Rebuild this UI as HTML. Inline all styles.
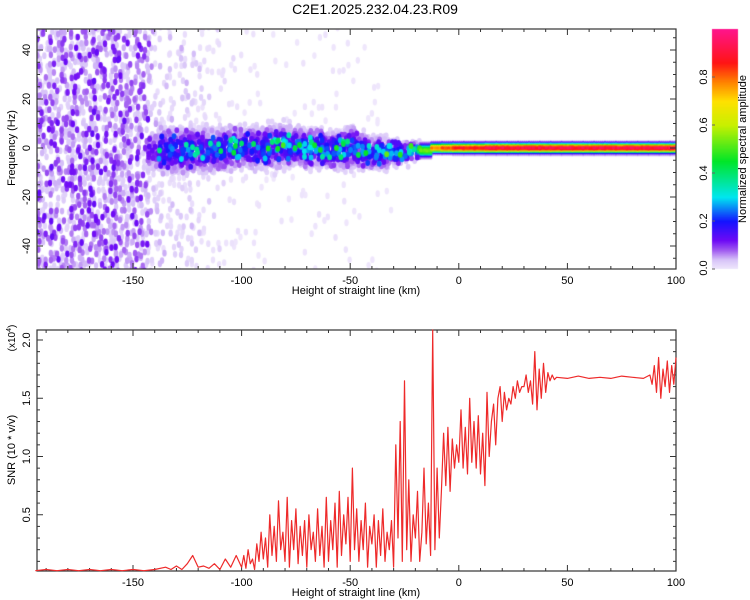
<!DOCTYPE html>
<html><head><meta charset="utf-8"><style>
body{margin:0;background:#fff;}
#wrap{position:relative;width:750px;height:600px;overflow:hidden;font-family:"Liberation Sans",sans-serif;}
canvas,svg{position:absolute;left:0;top:0;}
</style></head><body>
<div id="wrap">
<canvas id="heat" width="750" height="600"></canvas>
<svg id="svg" width="750" height="600"></svg>
</div>
<script>
// ---------- data ----------
const heatHeights = [];
for (let h = -195; h <= 100; h += 5) heatHeights.push(h);
const noiseLevel = [0.11,0.11,0.11,0.11,0.11,0.11,0.11,0.11,0.11,0.11,0.11,0.06,0.04,0.045,0.04,0.035,0.03,0.025,0.015,0.01,0.008,0.006,0.005,0.005,0.005,0.006,0.008,0.008,0.008,0.006,0.005,0.004,0.003,0.002,0.002,0.002,0,0,0,0,0,0,0,0,0,0,0,0,0,0,0,0,0,0,0,0,0,0,0,0];
const bandPeak = [0,0,0,0,0,0,0,0,0,0,0,0.16,0.22,0.25,0.25,0.22,0.25,0.25,0.27,0.25,0.25,0.25,0.27,0.3,0.27,0.3,0.28,0.28,0.3,0.27,0.27,0.27,0.3,0.3,0.33,0.38,0.55,0.8,0.85,0.9,0.9,0.9,0.95,0.95,0.95,0.95,0.95,0.95,0.95,0.95,0.95,0.95,0.95,0.95,0.95,0.95,0.95,0.95,0.95,0.95];
const bandWidth = [1,1,1,1,1,1,1,1,1,1,1,5.5,6.5,6.5,6.5,6.5,6.5,6,6,6,6,6,6,6,5.5,5.5,5.5,5,5,6,5.5,4.5,4.5,3.5,3,2.5,2,1.5,1.5,1.5,1.5,1.5,1.5,1.5,1.5,1.5,1.5,1.5,1.5,1.5,1.5,1.5,1.5,1.5,1.5,1.5,1.5,1.5,1.5,1.5];
const bandCenter = [0,0,0,0,0,0,0,0,0,0,0,-2,-1,-1,-1,-1,-1,-1,0,0,0,0,0,1,1,0,0,-1,-1,0,-1,-2,-2,-2,-2,-1,-1,0,0,0,0,0,0,0,0,0,0,0,0,0,0,0,0,0,0,0,0,0,0,0];

const snrHeights = [-195,-190,-185,-180,-175,-170,-165,-160,-155,-150,-145,-140,-135,-132.5,-130,-127.5,-125,-122.5,-120,-117.5,-115,-112.5,-110,-107.5,-105,-102.5,
-100,-99,-98,-97,-96,-95,-94,-93,-92,-91,-90,-89,-88,-87,-86,-85,-84,-83,-82,-81,-80,-79,-78,-77,-76,-75,-74,-73,-72,-71,-70,-69,-68,-67,-66,-65,-64,-63,-62,-61,-60,-59,-58,-57,-56,-55,-54,-53,-52,-51,-50,-49,-48,-47,-46,-45,-44,-43,-42,-41,-40,-39,-38,-37,-36,-35,-34,-33,-32,-31,-30,-29,-28,-27,-26,-25,-24,-23,-22,-21,-20,-19,-18,-17,-16,-15,-14,-13,-12,-11,-10,-9,-8,-7,-6,-5,-4,-3,-2,-1,0,1,2,3,4,5,6,7,8,9,10,11,12,13,14,15,16,17,18,19,20,21,22,23,24,25,26,27,28,29,30,31,32,33,34,35,36,37,38,39,40,41,42,43,44,45,
50,55,60,65,70,75,80,85,88,89,90,91,92,93,94,95,96,97,98,99,100];
const snrValues = [0.02,0.03,0.02,0.03,0.02,0.03,0.02,0.03,0.02,0.03,0.02,0.03,0.05,0.03,0.06,0.03,0.08,0.15,0.05,0.06,0.04,0.08,0.03,0.12,0.05,0.15,
0.05,0.15,0.04,0.2,0.08,0.12,0.03,0.25,0.1,0.35,
0.12,0.3,0.05,0.5,0.15,0.4,0.1,0.62,0.2,0.35,
0.1,0.65,0.05,0.45,0.2,0.55,0.08,0.4,0.15,0.45,
0.05,0.5,0.2,0.35,0.1,0.55,0.15,0.4,0.05,0.65,
0.1,0.45,0.2,0.6,0.05,0.7,0.15,0.5,0.25,0.65,
0.1,0.9,0.2,0.55,0.1,0.45,0.2,0.6,0.05,0.4,
0.25,0.5,0.05,0.45,0.15,0.55,0.1,0.35,0.2,0.45,
0.05,1.1,0.3,1.3,0.1,1.65,0.2,0.8,0.1,0.5,
0.3,0.7,0.1,0.35,0.9,0.25,0.6,0.15,2.1,0.2,
0.9,0.3,0.7,1.2,0.75,1.25,0.7,1.15,0.9,1.1,
0.95,1.4,0.9,1.25,0.85,1.5,0.95,1.3,0.9,1.35,
0.85,1.2,0.75,1.55,1.0,1.3,1.45,1.1,1.5,1.6,
1.3,1.55,1.4,1.5,1.45,1.6,1.5,1.65,1.55,1.6,
1.6,1.7,1.55,1.65,1.45,1.9,1.4,1.75,1.5,1.8,
1.55,1.72,1.65,1.7,1.66,1.68,
1.67,1.69,1.67,1.68,1.67,1.69,1.68,1.67,1.7,1.62,1.78,1.55,1.85,1.5,1.75,1.6,1.82,1.55,1.78,1.62,1.85];

const xTicksKm = [-150,-100,-50,0,50,100];
const freqTicks = [-40,-20,0,20,40];
const snrTicks = [0.5,1.0,1.5,2.0];
const cbarTicks = [0.0,0.2,0.4,0.6,0.8];

// ---------- scales ----------
const X = h => 458.8 + 2.172*h;
const TOP = {L:37,R:676,T:29,B:269};
const BOT = {L:37,R:676,T:330,B:571};
const YF = f => 148 - 2.45*f;
const YS = s => 573 - 116.5*s;
const CB = {L:712,R:738,T:29,B:269};
const YC = v => 269 - 240*v;

// ---------- colormap ----------
const stops = [[0,[240,232,252]],[0.04,[215,195,248]],[0.08,[160,90,240]],[0.12,[110,10,245]],[0.2,[20,20,255]],[0.3,[0,230,240]],[0.45,[0,230,40]],[0.6,[200,240,0]],[0.7,[255,225,0]],[0.78,[255,130,0]],[0.86,[255,20,20]],[1.0,[255,20,140]]];
function cmap(v){
  v=Math.max(0,Math.min(1,v));
  for(let i=1;i<stops.length;i++){
    if(v<=stops[i][0]){const a=stops[i-1],b=stops[i];const t=(v-a[0])/(b[0]-a[0]);
      return 'rgb('+a[1].map((c,k)=>Math.round(c+(b[1][k]-c)*t)).join(',')+')';}
  }
  return 'rgb(255,20,140)';
}
function hash(i,j){let n=Math.sin(i*12.9898+j*78.233+i*j*0.0137)*43758.5453;return n-Math.floor(n);}

// ---------- heatmap ----------
const cv=document.getElementById('heat');const ctx=cv.getContext('2d');
ctx.save();ctx.beginPath();ctx.rect(TOP.L,TOP.T,TOP.R-TOP.L,TOP.B-TOP.T);ctx.clip();
const cells=[];
let seed=0;
heatHeights.forEach((h,bi)=>{
  const x0=X(h-2.5), x1=X(h+2.5);
  const nl=noiseLevel[bi];
  if(nl>0){
    const dens=Math.min(0.62,nl*5.5);
    for(let x=x0;x<x1;x+=3){
      for(let f=-52;f<=52;f+=2.2){
        seed++;
        const r=hash(seed,1);
        if(r<dens){
          const q=hash(seed,2);
          const v=nl*(0.2+1.0*q*q);
          const jx=(hash(seed,3)-0.5)*3, jy=(hash(seed,4)-0.5)*4;
          cells.push([x+jx,YF(f)+jy,v,2.2,3.4]);
        }
      }
    }
  }
  const pk=bandPeak[bi];
  if(pk>0){
    const w=bandWidth[bi],c=bandCenter[bi];
    const rough=w>2.2;
    for(let x=x0;x<x1;x+=(rough?3:2)){
      for(let f=c-2.6*w;f<=c+2.6*w;f+=(rough?1.3:0.5)){
        seed++;
        const d=(f-c)/w;
        let t;
        if(rough){const q=hash(seed,5);t=0.3+0.85*q+(q>0.9?0.6:0);}
        else t=0.93+0.07*hash(seed,6);
        const v=pk*Math.exp(-d*d)*t;
        const jx=rough?(hash(seed,7)-0.5)*3:0, jy=rough?(hash(seed,8)-0.5)*3:0;
        if(v>0.02) cells.push([x+jx,YF(f)+jy,v,rough?2.4:1.6,rough?3.0:1.5]);
      }
    }
  }
});
cells.sort((a,b)=>a[2]-b[2]);
cells.forEach(c=>{ctx.fillStyle=cmap(c[2]);ctx.beginPath();ctx.ellipse(c[0],c[1],c[3],c[4],0,0,Math.PI*2);ctx.fill();});
ctx.restore();
for(let y=CB.T;y<CB.B;y++){ctx.fillStyle=cmap((CB.B-y)/240);ctx.fillRect(CB.L,y,CB.R-CB.L,1);}

// ---------- svg ----------
const NS='http://www.w3.org/2000/svg';const svg=document.getElementById('svg');
function el(tag,attrs,parent){const e=document.createElementNS(NS,tag);for(const k in attrs)e.setAttribute(k,attrs[k]);(parent||svg).appendChild(e);return e;}
function txt(s,x,y,size,rot,anchor){const t=el('text',{x:x,y:y,'font-size':size,'text-anchor':anchor||'middle',fill:'#000','font-family':'Liberation Sans, sans-serif'});if(rot)t.setAttribute('transform','rotate(-90 '+x+' '+y+')');t.textContent=s;return t;}

let t=txt('C2E1.2025.232.04.23.R09',375,14,14);



function frame(P,name){
  const r=el('rect',{x:P.L,y:P.T,width:P.R-P.L,height:P.B-P.T,fill:'none',stroke:'#333','stroke-width':1.2});
  
  
  for(let h=-190;h<=100;h+=10){const x=X(h);const L=(h%50===0)?6:3;
    el('line',{x1:x,x2:x,y1:P.B,y2:P.B-L,stroke:'#333'});el('line',{x1:x,x2:x,y1:P.T,y2:P.T+L,stroke:'#333'});}
  const g=el('g',{});
  
  
  xTicksKm.forEach(h=>{const tt=txt(String(h),X(h),P.B+15,11);g.appendChild(tt);});
  const xt=txt('Height of straight line (km)',356,P.B+25,11);
  
  
}
frame(TOP,'spectrogram-frame');frame(BOT,'snr-frame');

for(let f=-50;f<=50;f+=5){const y=YF(f);if(y<TOP.T||y>TOP.B)continue;const L=(f%20===0)?6:3;
  el('line',{x1:TOP.L,x2:TOP.L+L,y1:y,y2:y,stroke:'#333'});el('line',{x1:TOP.R,x2:TOP.R-L,y1:y,y2:y,stroke:'#333'});}
freqTicks.forEach(f=>{const tt=txt(String(f),30,YF(f),11,true);});
t=txt('Frequency (Hz)',15,148,11,true);



for(let k=1;k<=20;k++){const s=k/10;const y=YS(s);if(y<BOT.T)continue;const L=(k%5===0)?6:3;
  el('line',{x1:BOT.L,x2:BOT.L+L,y1:y,y2:y,stroke:'#333'});el('line',{x1:BOT.R,x2:BOT.R-L,y1:y,y2:y,stroke:'#333'});}
snrTicks.forEach(s=>{const tt=txt(s.toFixed(1),30,YS(s),11,true);});
t=txt('SNR (10 * v/v)',15,450,11,true);


t=el('text',{x:15,y:338,'font-size':10,'text-anchor':'middle','transform':'rotate(-90 15 338)','font-family':'Liberation Sans, sans-serif'});
t.innerHTML='(x10<tspan dy="-4" font-size="7">4</tspan><tspan dy="4">)</tspan>';



const pts=snrHeights.map((h,i)=>X(h).toFixed(1)+','+Math.max(BOT.T,YS(snrValues[i])).toFixed(1)).join(' ');
const line=el('polyline',{points:pts,fill:'none',stroke:'#ee2a2a','stroke-width':1.2,'stroke-linejoin':'round'});



const cbr=el('rect',{x:CB.L,y:CB.T,width:CB.R-CB.L,height:CB.B-CB.T,fill:'none',stroke:'none'});


cbarTicks.forEach(v=>{const y=YC(v);el('line',{x1:CB.L,x2:CB.L+3,y1:y,y2:y,stroke:'#666'});
  const tt=txt(v.toFixed(1),707,Math.min(y,268),11,true);});
t=txt('Normalized spectral amplitude',746,149,11,true);


</script>
</body></html>
